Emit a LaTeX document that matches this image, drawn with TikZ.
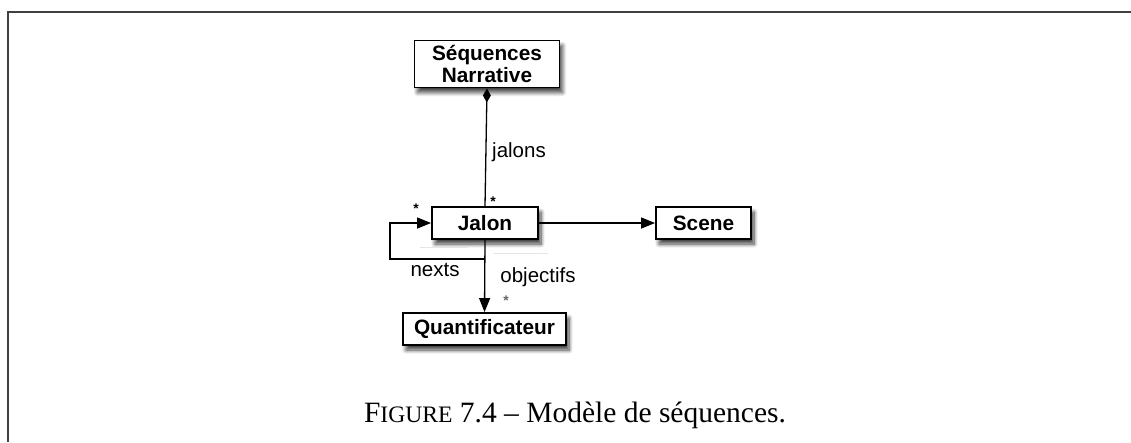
\documentclass[tikz,border=0pt]{standalone}
\usepackage{fontspec}
\setmainfont{Liberation Serif}
\newfontfamily\arial{Liberation Sans}
\usetikzlibrary{arrows.meta,shadows.blur}
\begin{document}
\begin{tikzpicture}[x=1pt,y=-1pt,
  umlbox/.style={draw=black,line width=1.9pt,fill=white,inner sep=0pt,
    font=\arial\bfseries\fontsize{20.8}{21.5}\selectfont,align=center,
    blur shadow={shadow xshift=3pt,shadow yshift=-5pt,shadow blur radius=4pt,shadow blur steps=8,shadow opacity=75}},
  conn/.style={line width=1.3pt,black},
  tri/.tip={Triangle[length=14pt,width=11pt]},
  dia/.tip={Diamond[length=14pt,width=8pt]},
  lbl/.style={font=\arial\fontsize{20.5}{22}\selectfont,inner sep=0pt},
  star/.style={font=\arial\bfseries\fontsize{14}{14}\selectfont,inner sep=0pt},
  faint/.style={line width=1pt,black!10}
]
\useasboundingbox (0,0) rectangle (1131,442);
\draw[line width=1.3pt,black!75] (8,442) -- (8,12) -- (1131,12);

\node[umlbox,minimum width=145pt,minimum height=47pt] (seq) at (487,64) {Séquences\\Narrative};
\node[umlbox,minimum width=106pt,minimum height=32pt] (jalon) at (485,223) {Jalon};
\node[umlbox,minimum width=95pt,minimum height=32pt] (scene) at (703.5,223) {Scene};
\node[umlbox,minimum width=163pt,minimum height=32pt] (quant) at (484.5,329) {Quantificateur};

\draw[faint] (420,247) -- (468,247);
\draw[faint] (493,253) -- (548,253);

\draw[conn,{dia}-] (seq.south) -- (jalon.north);
\draw[conn,-{tri}] (jalon.east) -- (scene.west);
\draw[conn,-{tri}] (jalon.south) -- (quant.north);
\coordinate (lp) at (485,259);
\draw[conn,-{tri}] (lp) -| ([xshift=-41pt]jalon.west) -- (jalon.west);

\node[lbl] (ljalons) at (519,152) {jalons};
\node[star] (s1) at (493,202) {*};
\node[star] (s2) at (416,209) {*};
\node[lbl] (lnexts) at (435,270) {nexts};
\node[lbl] (lobj) at (538,277) {objectifs};
\node[star,black!60] (s3) at (506,301) {*};

\node[inner sep=0pt,anchor=base] (cap) at (575,422)
  {\fontsize{29.5}{32}\selectfont F{\fontsize{23.6}{26}\selectfont IGURE} 7.4 – Modèle de séquences.};
\end{tikzpicture}
\end{document}
